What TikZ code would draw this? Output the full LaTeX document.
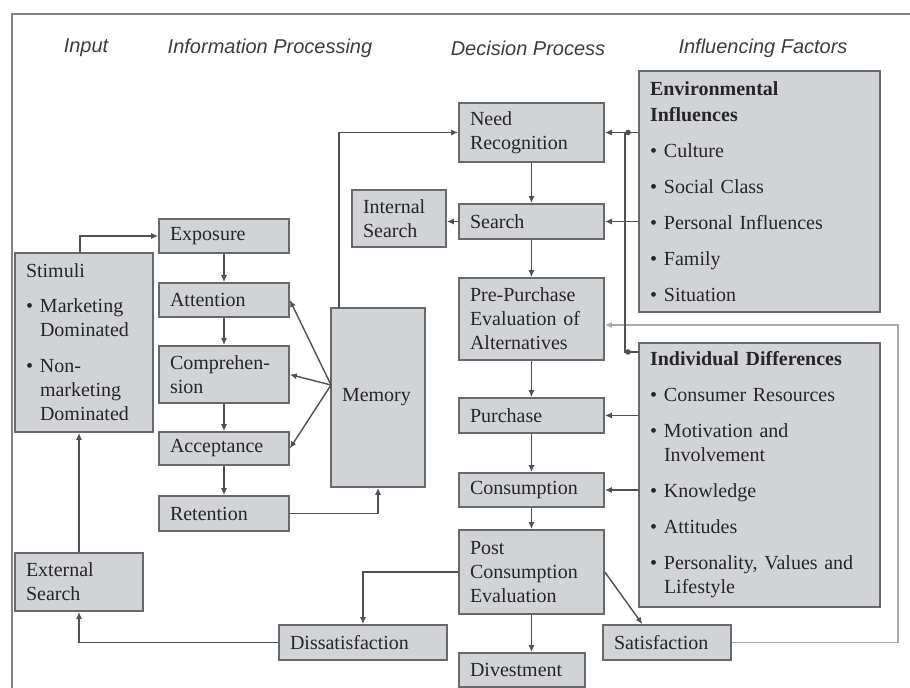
\documentclass[tikz,border=0pt]{standalone}
\usepackage{fontspec}
\setmainfont{Liberation Serif}
\newfontfamily\headfont{Liberation Sans}
\usetikzlibrary{arrows.meta,calc}
\definecolor{boxfill}{RGB}{209,211,214}
\definecolor{boxline}{RGB}{105,105,105}
\definecolor{wire}{RGB}{80,80,80}
\definecolor{loopwire}{RGB}{170,170,170}
\definecolor{headtxt}{RGB}{60,60,60}
\definecolor{framecol}{RGB}{130,130,130}
\newcommand{\bitem}{\makebox[7pt][l]{\textbullet}}
\newcommand{\bcont}{\hspace*{7pt}}
\begin{document}
\begin{tikzpicture}[x=0.5pt,y=-0.5pt,
    stage/.style={draw=boxline,fill=boxfill,line width=0.8pt,inner xsep=5.5pt,inner ysep=2pt,
        align=left,font=\fontsize{10}{12}\selectfont,text=black!85},
    sz/.style 2 args={minimum width=#1pt,minimum height=#2pt,text width=#1pt-11pt},
    flow/.style={draw=wire,line width=0.7pt,-{Latex[length=3.5pt,width=3pt]}},
    head/.style={font=\headfont\itshape\fontsize{10}{12}\selectfont,text=headtxt}]
    \useasboundingbox (0,0) rectangle (910,688);
    \draw [framecol,line width=1pt] (12,688)--(12,14)--(910,14);
    % column titles
    \node[head] (hinput) at (86,48) {Input};
    \node[head] (hinfo) at (270,48) {Information Processing};
    \node[head] (hdecide) at (528,48) {Decision Process};
    \node[head] (hfactor) at (763,48) {Influencing Factors};
    % input
    \node[stage,sz={69}{89.5}] (stimuli) at (84,342.5) {Stimuli\\[5.5pt]\bitem Marketing\\\bcont Dominated\\[6pt]\bitem Non-\\\bcont marketing\\\bcont Dominated};
    \node[stage,sz={64}{29}] (extsearch) at (79,582) {External\\Search};
    % information processing
    \node[stage,sz={65}{17}] (exposure) at (224,236) {Exposure};
    \node[stage,sz={65}{17}] (attention) at (224,300) {Attention};
    \node[stage,sz={65}{28.5}] (compre) at (224,374.5) {Comprehen-\\sion};
    \node[stage,sz={65}{16.5}] (accept) at (224,448.5) {Acceptance};
    \node[stage,sz={65}{17.5}] (retain) at (224,513.5) {Retention};
    \node[stage,sz={47}{89.5}] (memory) at (378,397.5) {Memory};
    % decision process
    \node[stage,sz={47}{28.5}] (intsearch) at (399,218.5) {Internal\\Search};
    \node[stage,sz={72.5}{29.5}] (need) at (531.5,132.5) {Need\\Recognition};
    \node[stage,sz={72.5}{17.5}] (search) at (531.5,221.5) {Search};
    \node[stage,sz={72.5}{41}] (prepur) at (531.5,319) {Pre-Purchase\\Evaluation of\\Alternatives};
    \node[stage,sz={72.5}{17.5}] (purchase) at (531.5,415.5) {Purchase};
    \node[stage,sz={72.5}{17}] (consume) at (531.5,490) {Consumption};
    \node[stage,sz={72.5}{42}] (postcon) at (531.5,572) {Post\\Consumption\\Evaluation};
    \node[stage,sz={63}{17}] (divest) at (522,670) {Divestment};
    \node[stage,sz={84}{17.5}] (dissat) at (363,642.5) {Dissatisfaction};
    \node[stage,sz={64}{17.5}] (satis) at (667,642.5) {Satisfaction};
    % influencing factors
    \node[stage,sz={120.5}{120.5}] (envinf) at (759.5,191.5) {\textbf{Environmental}\\[1pt]\textbf{Influences}\\[6pt]\bitem Culture\\[6pt]\bitem Social Class\\[6pt]\bitem Personal Influences\\[6pt]\bitem Family\\[6pt]\bitem Situation};
    \node[stage,sz={120.5}{132}] (inddiff) at (759.5,475) {\textbf{Individual Differences}\\[6pt]\bitem Consumer Resources\\[6pt]\bitem Motivation and\\\bcont Involvement\\[6pt]\bitem Knowledge\\[6pt]\bitem Attitudes\\[6pt]\bitem Personality, Values and\\\bcont Lifestyle};
    % connectors
    \coordinate (stimtop) at (80,253);
    \coordinate (memjoin) at (331,385);
    \coordinate (memtop) at (339,308);
    \coordinate (indtap) at (639,352);
    \coordinate (envtap) at (625,132.5);
    \coordinate (loopcorner) at (898,325);
    \foreach \a/\b in {exposure/attention,attention/compre,compre/accept,accept/retain,
        need/search,search/prepur,prepur/purchase,purchase/consume,consume/postcon}
        \draw[flow] (\a) -- (\b);
    \draw[flow] (postcon.south) -- (postcon.south |- divest.north);
    \foreach \t in {attention,compre,accept}
        \draw[flow] (memjoin) -- (\t.east);
    \draw[flow] (retain.east) -| (memory.south);
    \draw[flow] (memtop) |- (need.west);
    \draw[flow] (stimtop) |- (exposure.west);
    \draw[flow] (extsearch.north) -- (extsearch.north |- stimuli.south);
    \draw[flow] (dissat.west) -| (extsearch.south);
    \draw[flow] (postcon.west) -| (dissat.north);
    \draw[flow] (postcon.east) -- ($(satis.north west)!0.31!(satis.north east)$);
    \draw[flow] (search.west) -- (search.west -| intsearch.east);
    \draw[flow] (need.east -| envinf.west) -- (need.east);
    \draw[flow] (search.east -| envinf.west) -- (search.east);
    \draw[flow] (purchase.east -| inddiff.west) -- (purchase.east);
    \draw[flow] (consume.east -| inddiff.west) -- (consume.east);
    \draw[flow,draw=loopwire] (satis.east) -| (loopcorner) -- (loopcorner -| prepur.east);
    \draw[wire,line width=0.7pt] (indtap) -| (envtap);
    \fill[wire] (628,132.5) circle (1.4pt) (628,352) circle (1.4pt);
\end{tikzpicture}
\end{document}
